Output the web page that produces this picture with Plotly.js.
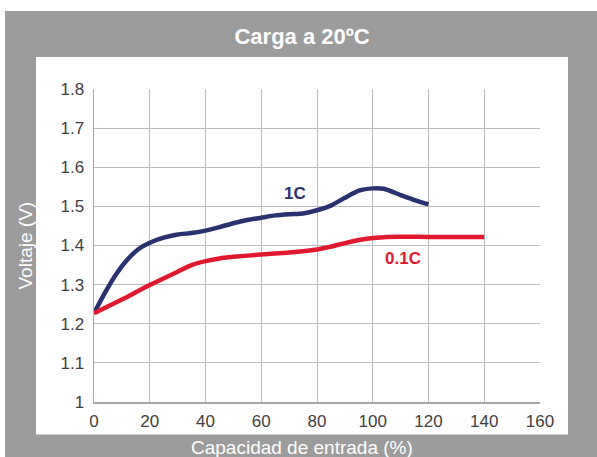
<!DOCTYPE html>
<html>
<head>
<meta charset="utf-8">
<script src="https://cdn.plot.ly/plotly-3.0.1.min.js"></script>
<style>html,body{margin:0;padding:0;background:#fff;}#chart{width:597px;height:457px;}</style>
</head>
<body>
<div id="chart"></div>
<script>
var x1C = [0, 4, 8, 12, 16, 20, 25, 30, 35, 40, 45, 50, 55, 60, 65, 70, 75, 80, 85, 90, 95, 100, 104, 110, 115, 120];
var y1C = [1.227, 1.28, 1.327, 1.364, 1.391, 1.407, 1.42, 1.428, 1.432, 1.438, 1.447, 1.457, 1.465, 1.471, 1.477, 1.48, 1.482, 1.49, 1.502, 1.522, 1.54, 1.546, 1.545, 1.529, 1.516, 1.505];
var x01C = [0, 10, 20, 30, 35, 40, 45, 50, 60, 70, 80, 85, 90, 95, 100, 105, 120, 140];
var y01C = [1.227, 1.262, 1.299, 1.333, 1.35, 1.36, 1.367, 1.371, 1.377, 1.382, 1.39, 1.397, 1.406, 1.414, 1.419, 1.422, 1.422, 1.422];
var seriesNames = ['1C', '0.1C'];
var xTicks = [0, 20, 40, 60, 80, 100, 120, 140, 160];
var yTicks = [1, 1.1, 1.2, 1.3, 1.4, 1.5, 1.6, 1.7, 1.8];
var yTickText = ['1', '1.1', '1.2', '1.3', '1.4', '1.5', '1.6', '1.7', '1.8'];

var navy = '#2a3171';
var red = '#e1192e';
var font = 'Arial, "Liberation Sans", sans-serif';

var traces = [
  {x: x1C, y: y1C, name: seriesNames[0], mode: 'lines', line: {color: navy, width: 4.5, shape: 'spline', smoothing: 0.5}},
  {x: x01C, y: y01C, name: seriesNames[1], mode: 'lines', line: {color: red, width: 4.5, shape: 'spline', smoothing: 0.5}}
];

var layout = {
  width: 597, height: 457,
  margin: {l: 94, r: 57, t: 89, b: 55},
  paper_bgcolor: '#ffffff',
  plot_bgcolor: '#ffffff',
  showlegend: false,
  font: {family: font, color: '#404040', size: 17},
  title: {text: '<b>Carga a 20ºC</b>', font: {family: font, size: 22, color: '#ffffff'},
          xref: 'container', yref: 'container', x: 0.506, y: 0.921, xanchor: 'center', yanchor: 'middle'},
  xaxis: {range: [0, 160], tickvals: xTicks, ticktext: xTicks.map(String), showgrid: true, gridcolor: '#bdbdbd', gridwidth: 1,
          showline: true, linecolor: '#a8a8a8', linewidth: 1.5, mirror: false, zeroline: false,
          ticks: 'outside', ticklen: 3, tickcolor: 'rgba(0,0,0,0)',
          tickfont: {family: font, size: 17, color: '#404040'}, fixedrange: true},
  yaxis: {range: [1, 1.8], tickvals: yTicks, ticktext: yTickText, showgrid: true, gridcolor: '#bdbdbd', gridwidth: 1,
          showline: true, linecolor: '#a8a8a8', linewidth: 1.5, zeroline: false,
          ticks: 'outside', ticklen: 5, tickcolor: 'rgba(0,0,0,0)',
          tickfont: {family: font, size: 17, color: '#404040'}, fixedrange: true},
  shapes: [
    {type: 'rect', xref: 'paper', yref: 'paper', x0: -0.1996, x1: 1.2, y0: -0.3, y1: 1.249, fillcolor: '#9c9c9c', line: {width: 0}, layer: 'below'},
    {type: 'rect', xref: 'paper', yref: 'paper', x0: -0.130, x1: 1.0628, y0: -0.1038, y1: 1.102, fillcolor: '#ffffff', line: {width: 0}, layer: 'below'}
  ],
  annotations: [
    {text: 'Capacidad de entrada (%)', xref: 'paper', yref: 'paper', x: 0.466, y: -0.144, xanchor: 'center', yanchor: 'middle', showarrow: false,
     font: {family: font, size: 19, color: '#ffffff'}},
    {text: 'Voltaje (V)', xref: 'paper', yref: 'paper', x: -0.1547, y: 0.5, xanchor: 'center', yanchor: 'middle', textangle: -90, showarrow: false,
     font: {family: font, size: 19, color: '#ffffff'}},
    {text: '<b>1C</b>', xref: 'x', yref: 'y', x: 72, y: 1.534, showarrow: false, font: {family: font, size: 17, color: navy}},
    {text: '<b>0.1C</b>', xref: 'x', yref: 'y', x: 111, y: 1.366, showarrow: false, font: {family: font, size: 17, color: red}}
  ]
};

Plotly.newPlot('chart', traces, layout, {staticPlot: true, displayModeBar: false});
</script>
</body>
</html>
